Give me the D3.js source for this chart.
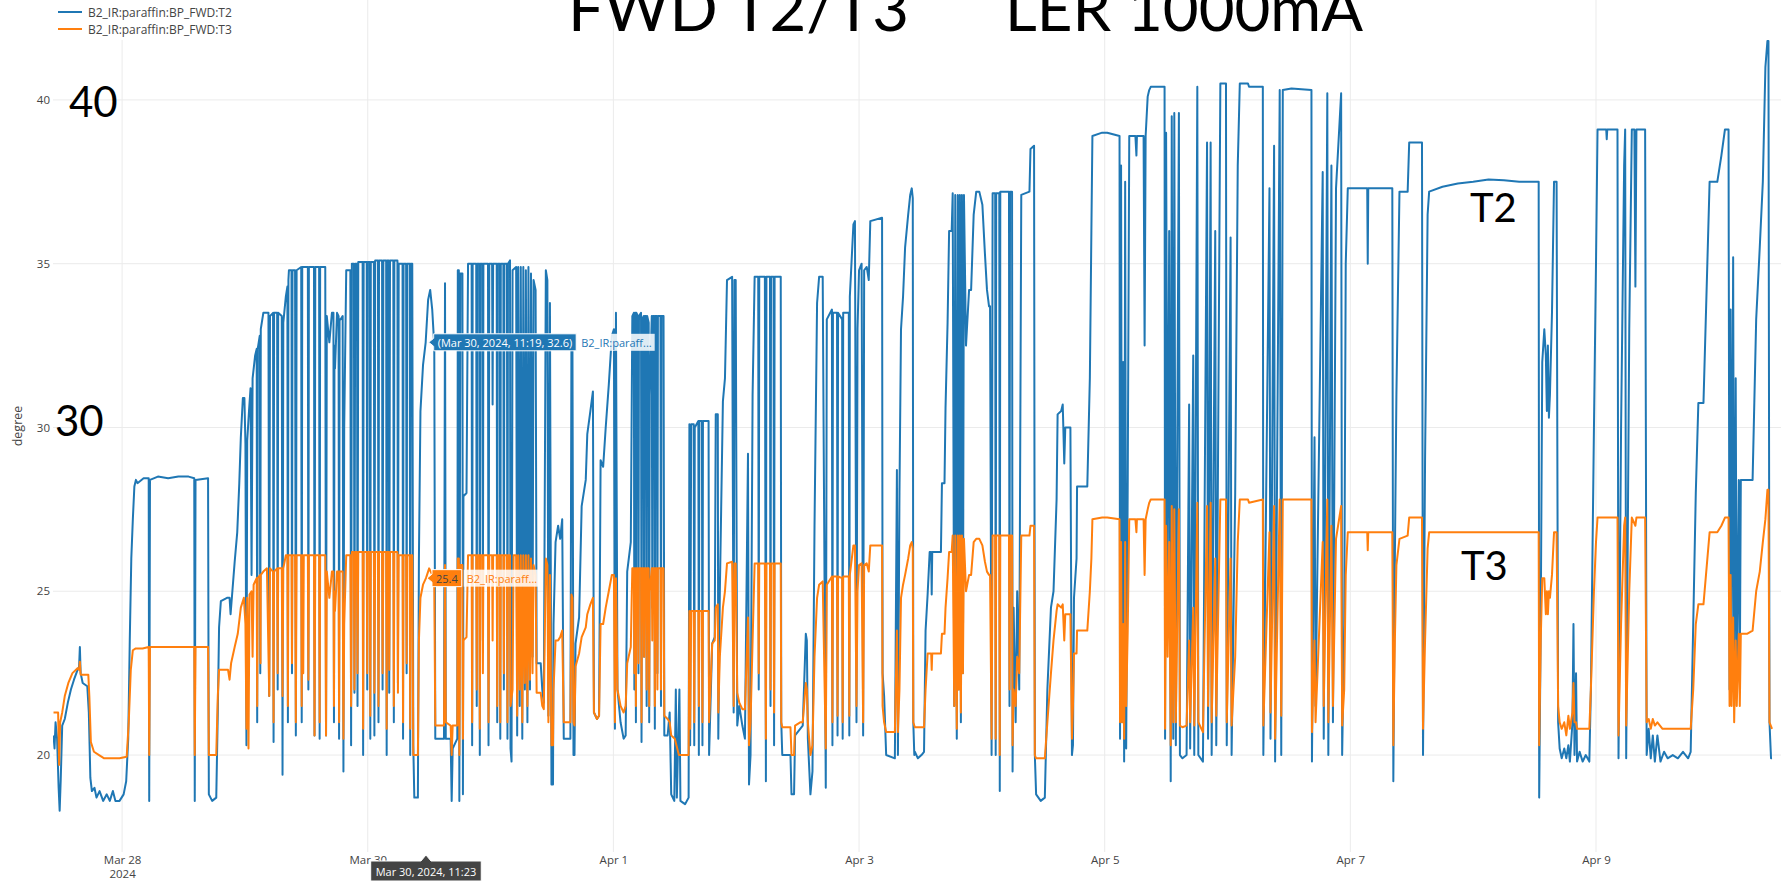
<!DOCTYPE html>
<html>
<head>
<meta charset="utf-8">
<script src="https://cdn.jsdelivr.net/npm/d3@7"></script>
<style>
  html, body { margin: 0; padding: 0; background: #fff; }
  svg { display: block; }
</style>
</head>
<body>
<svg id="chart" width="1781" height="881"></svg>
<script>
// Time stamps are hours after 2024-03-27 00:00; values in degrees.
const t2Points = [
  [10.6,20.6],[10.8,20.2],[11.0,21.0],[11.3,20.5],[11.6,19.0],[11.8,18.3],[12.0,19.2],[12.3,20.9],[12.8,21.1],[13.4,21.6],[14.0,22.0],[14.6,22.3],[15.3,22.6],[15.6,22.7],[15.75,23.3],[15.9,22.5],[16.3,22.2],[17.2,22.1],[17.5,21.3],[17.8,19.3],[18.1,18.9],[18.6,19.0],[19.0,18.7],[19.6,18.9],[20.3,18.6],[21.0,18.8],[21.6,18.6],[22.2,18.9],[22.7,18.6],[23.5,18.6],[24.3,18.8],[24.8,19.2],[25.2,20.5],[25.5,23.5],[25.8,26.0],[26.1,27.2],[26.4,28.2],[26.7,28.4],[27.0,28.3],[28.2,28.45],[29.2,28.45],[29.3,18.6],[29.45,28.4],[31.0,28.5],[33.0,28.45],[35.0,28.5],[37.0,28.5],[38.1,28.45],[38.2,18.6],[38.35,28.4],[40.8,28.45],[40.95,18.8],[41.6,18.6],[42.4,18.7],[42.7,21.3],[42.95,23.9],[43.3,24.7],[44.5,24.8],[45.0,24.8],[45.2,24.3],[45.5,24.9],[46.0,25.9],[46.5,26.8],[46.9,28.3],[47.2,29.7],[47.6,30.9],[47.9,30.9],[48.1,29.5],[48.3,20.3],[48.45,29.6],[48.8,30.5],[49.1,31.2],[49.3,25.5],[49.5,31.5],[50.0,32.2],[50.3,32.4],[50.4,21.0],[50.5,32.4],[50.9,32.8],[51.0,22.5],[51.1,33.0],[51.6,33.5],[52.6,33.5],[52.75,21.8],[52.9,33.4],[53.5,33.5],[53.6,20.4],[53.7,33.5],[54.3,33.5],[54.4,22.0],[54.5,33.5],[55.2,33.4],[55.35,19.4],[55.5,33.2],[56.0,34.0],[56.3,34.3],[56.4,21.0],[56.5,34.5],[56.6,34.8],[57.1,34.8],[57.2,22.5],[57.3,34.8],[57.8,34.8],[57.95,20.6],[58.1,34.8],[59.0,34.9],[59.1,21.0],[59.2,34.9],[60.3,34.9],[60.4,22.0],[60.5,34.9],[61.5,34.9],[61.6,20.6],[61.75,34.9],[62.5,34.9],[62.6,20.5],[62.7,34.9],[63.7,34.9],[63.85,20.6],[64.0,33.4],[64.5,32.6],[65.0,33.5],[65.3,33.5],[65.4,21.0],[65.5,32.5],[65.6,31.8],[66.0,33.5],[66.3,33.4],[66.4,20.5],[66.5,33.3],[66.7,33.3],[67.1,33.4],[67.25,19.5],[67.4,30.0],[67.8,34.8],[68.6,34.8],[68.75,20.3],[68.9,35.0],[69.3,35.0],[69.4,21.9],[69.55,35.0],[69.9,35.0],[70.0,21.5],[70.15,35.05],[71.0,35.05],[71.1,20.0],[71.2,35.05],[71.8,35.05],[71.9,22.0],[72.0,35.05],[72.4,35.05],[72.5,20.5],[72.6,35.05],[73.2,35.05],[73.3,20.6],[73.45,35.1],[74.0,35.1],[74.1,21.0],[74.2,35.1],[74.8,35.1],[74.9,22.0],[75.05,35.1],[75.6,35.1],[75.7,20.0],[75.8,35.1],[76.1,35.1],[76.2,21.9],[76.35,35.1],[77.0,35.1],[77.1,21.0],[77.2,35.1],[77.8,35.1],[77.9,22.2],[78.05,35.0],[78.8,35.0],[78.9,20.5],[79.0,35.0],[79.5,35.0],[79.6,22.5],[79.7,35.0],[80.2,35.0],[80.3,20.0],[80.4,35.0],[80.7,35.0],[80.9,20.3],[81.1,18.7],[81.8,18.7],[82.0,26.0],[82.3,30.5],[82.8,31.9],[83.32,32.6],[83.8,33.9],[84.2,34.2],[84.6,33.6],[85.0,32.5],[85.2,20.5],[86.9,20.5],[87.1,34.4],[87.25,20.5],[88.2,20.5],[88.4,18.6],[88.6,20.2],[89.5,20.5],[89.6,34.8],[89.8,34.8],[89.9,18.6],[90.1,34.7],[90.5,34.7],[90.6,18.8],[90.7,27.9],[91.3,28.0],[91.6,35.0],[92.3,35.0],[92.4,20.3],[92.5,35.0],[93.2,35.0],[93.3,21.5],[93.4,35.0],[93.8,35.0],[93.9,20.0],[94.0,35.0],[94.4,35.0],[94.5,23.5],[94.6,35.0],
  [95.5,35.0],[95.6,20.3],[95.75,35.0],[96.3,35.0],[96.4,30.7],[96.5,35.0],[97.2,35.0],[97.3,21.0],[97.4,35.0],[97.8,35.0],[97.9,20.5],[98.0,35.0],[98.5,35.0],[98.6,22.0],[98.7,35.0],[99.2,35.0],[99.3,20.5],[99.4,35.0],[99.8,35.1],[99.9,20.2],[100.1,19.8],[100.3,34.8],[101.0,34.9],[101.2,20.6],[101.4,34.9],[101.7,21.5],[101.9,34.9],[102.2,20.5],[102.4,34.9],[102.7,22.0],[102.9,34.8],[103.2,21.0],[103.4,34.9],[103.7,22.0],[103.9,34.7],[104.2,23.0],[104.4,34.5],[104.8,34.2],[105.0,22.8],[105.8,22.8],[106.1,22.0],[106.4,21.6],[106.8,34.8],[107.1,34.5],[107.3,21.2],[107.6,33.8],[107.9,19.1],[108.2,19.1],[108.3,24.0],[108.7,26.5],[109.2,27.0],[109.6,26.6],[110.0,27.2],[110.3,20.5],[111.6,20.5],[111.8,32.5],[112.0,32.4],[112.2,20.0],[112.4,20.0],[112.6,23.4],[113.3,24.2],[113.8,27.6],[114.6,28.4],[114.9,29.8],[115.5,30.5],[116.0,31.1],[116.2,21.3],[116.8,21.1],[117.2,21.2],[117.5,29.0],[118.0,28.8],[118.5,30.0],[119.1,31.3],[119.7,32.8],[120.1,33.0],[120.3,20.8],[120.5,33.5],[120.8,22.0],[121.4,21.0],[122.0,20.5],[122.4,20.6],[122.7,25.6],[123.4,26.5],[123.7,33.4],[124.0,33.5],[124.1,22.0],[124.2,33.5],[124.3,33.5],[124.4,21.0],[124.5,33.5],[124.8,33.4],[124.9,22.5],[125.0,33.4],[125.4,33.5],[125.5,20.4],[125.6,33.3],[125.9,33.4],[126.0,23.0],[126.1,33.4],[126.4,33.4],[126.5,21.5],[126.6,33.4],[126.9,33.2],[127.0,21.0],[127.1,31.0],[127.5,33.4],[127.6,24.5],[127.7,33.4],[128.0,33.4],[128.1,20.8],[128.2,33.4],[128.5,33.4],[128.6,22.5],[128.7,33.4],[129.2,33.4],[129.3,21.5],[129.4,33.4],[129.8,33.4],[129.95,20.6],[130.6,20.6],[131.0,21.3],[131.3,18.8],[131.9,18.6],[132.2,22.0],[132.4,18.7],[132.9,22.0],[133.1,18.6],[134.0,18.5],[134.7,18.7],[134.85,30.1],[135.0,20.3],[135.2,30.1],[135.7,30.1],[135.8,20.3],[135.9,30.0],[136.6,30.2],[136.7,20.0],[136.8,30.2],[137.3,30.2],[137.4,20.3],[137.5,30.2],[138.6,30.2],[138.7,20.0],[139.3,23.4],[139.8,23.6],[140.0,30.4],[140.4,30.4],[140.5,20.5],[140.8,25.0],[141.4,30.8],[141.8,31.5],[142.2,34.5],[143.2,34.6],[143.5,21.3],[143.65,34.5],[143.9,34.5],[144.2,20.9],[144.6,21.5],[145.2,20.9],[145.7,20.5],[146.3,29.2],[146.5,19.1],[146.8,20.0],[147.2,31.0],[147.6,34.6],[148.3,34.6],[148.4,22.0],[148.5,34.6],[149.6,34.6],[149.8,19.2],[149.9,34.6],[150.6,34.6],[150.7,21.5],[150.8,34.6],[151.3,34.6],[151.4,20.3],[151.5,34.6],[152.7,34.6],[152.8,21.0],[153.0,20.0],[154.6,20.0],[154.8,18.8],[155.3,18.8],[155.5,20.6],[156.5,20.8],[157.0,20.9],[157.6,23.7],[157.8,23.5],[158.0,20.5],[158.5,18.8],[158.9,19.5],[159.3,27.0],[159.8,33.8],[160.2,34.6],[160.9,34.6],[161.5,19.0],[161.7,33.3],[162.7,33.6],[162.8,20.3],[162.9,33.5],[163.7,33.5],[163.8,20.6],[163.9,33.5],[164.7,33.3],[164.8,20.5],[164.9,33.5],[166.0,33.5],[166.1,20.6],[166.2,34.0],[166.9,36.2],[167.2,36.3],[167.5,21.0],[167.7,33.0],[168.0,34.8],[168.5,35.0],[168.8,20.6],[169.0,34.8],[169.5,34.9],[169.9,34.5],[170.2,36.3],[172.5,36.4],[172.6,22.5],[172.9,21.8],[173.3,20.0],[175.0,19.9],[175.4,28.7],[175.6,20.0],[175.9,28.0],[176.2,33.0],[176.6,34.0],[177.0,35.5],[177.6,36.5],[178.0,37.1],[178.3,37.3],[178.5,37.0],[178.6,21.0],[178.8,20.0],
  [178.9,20.1],[179.5,19.9],[180.2,20.0],[180.7,20.1],[181.0,23.8],[181.4,24.9],[181.8,26.2],[182.1,26.2],[182.2,24.9],[182.3,26.2],[184.0,26.2],[184.2,28.3],[184.7,28.3],[184.9,30.6],[185.3,33.2],[185.6,36.0],[186.1,36.0],[186.3,37.15],[186.6,21.5],[186.8,37.1],[187.1,20.5],[187.3,37.1],[187.5,22.0],[187.7,37.1],[187.9,21.0],[188.1,37.1],[188.3,22.5],[188.5,37.1],[188.9,32.5],[189.5,34.2],[189.9,34.2],[190.4,36.5],[190.9,37.2],[191.5,37.2],[192.1,36.8],[192.6,35.3],[193.0,34.2],[193.4,33.7],[193.6,33.7],[193.9,20.0],[194.1,37.15],[194.6,37.15],[194.7,20.0],[194.8,37.15],[195.4,37.15],[195.5,18.9],[195.6,37.2],[197.3,37.2],[197.4,21.5],[197.5,37.2],[197.9,37.2],[198.0,19.5],[198.2,24.5],[198.6,21.0],[198.9,25.0],[199.3,22.0],[199.7,37.1],[201.3,37.2],[201.5,38.5],[202.2,38.6],[202.35,20.0],[202.6,18.8],[203.5,18.6],[204.3,18.7],[204.8,22.0],[205.5,24.5],[206.0,25.0],[206.6,27.8],[206.8,30.4],[207.5,30.5],[207.8,30.7],[208.1,28.9],[208.3,30.0],[209.3,30.0],[209.6,20.0],[209.8,20.3],[210.0,24.8],[210.5,26.0],[210.6,28.2],[212.6,28.2],[213.1,31.5],[213.4,36.0],[213.6,38.9],[215.5,39.0],[216.5,39.0],[218.9,38.9],[219.0,20.5],[219.2,38.0],[219.4,21.0],[219.6,32.0],[219.8,19.8],[220.0,37.5],[220.2,20.2],[220.5,28.3],[220.8,38.9],[222.0,38.9],[222.2,38.3],[222.3,38.9],[223.6,38.9],[223.8,32.5],[224.0,38.9],[224.4,40.1],[224.7,40.3],[225.0,40.4],[227.7,40.4],[227.8,20.5],[228.0,39.0],[228.3,25.0],[228.6,36.0],[228.9,19.2],[229.1,39.5],[229.4,20.5],[229.6,39.6],[229.9,20.3],[230.5,39.6],[230.7,20.0],[231.2,19.9],[232.0,20.0],[232.5,30.7],[232.7,20.2],[233.3,32.2],[233.5,20.0],[234.1,40.4],[234.3,20.0],[235.2,19.8],[236.0,38.7],[236.2,20.5],[236.7,38.7],[236.9,20.0],[237.6,36.0],[237.8,20.3],[238.6,40.5],[239.7,40.5],[239.85,20.3],[240.6,35.8],[240.8,20.0],[241.5,28.0],[242.0,38.0],[242.4,40.5],[244.0,40.5],[244.2,40.4],[246.9,40.4],[247.0,20.0],[248.2,37.3],[248.4,20.5],[249.1,38.6],[249.3,19.8],[250.2,40.3],[250.5,20.0],[250.8,40.3],[252.5,40.35],[256.4,40.3],[256.5,19.8],[257.0,29.7],[257.2,21.5],[258.6,37.8],[258.8,20.5],[259.5,40.2],[259.7,20.0],[260.3,38.0],[260.6,21.0],[261.2,37.3],[262.2,40.2],[262.4,20.0],
  [262.8,24.0],[263.1,35.0],[263.5,37.3],[267.3,37.3],[267.4,35.0],[267.5,37.3],[272.2,37.3],[272.4,19.2],[272.7,26.0],[273.0,31.0],[273.6,37.2],[275.2,37.2],[275.5,38.7],[278.0,38.7],[278.2,20.0],[278.6,29.0],[279.1,36.5],[279.4,37.2],[282.0,37.35],[285.0,37.45],[288.0,37.5],[291.0,37.57],[294.0,37.55],[297.0,37.5],[300.8,37.5],[300.9,18.7],[301.2,24.0],[301.5,32.0],[301.9,33.0],[302.2,32.2],[302.4,30.5],[302.6,32.5],[302.8,30.3],[303.0,31.0],[303.4,33.5],[303.8,37.5],[304.3,37.5],[304.6,21.0],[304.9,20.2],[305.3,19.9],[305.8,20.2],[306.2,19.9],[306.6,20.3],[306.9,19.8],[307.4,21.0],[307.6,24.0],[307.8,20.0],[308.1,22.5],[308.3,19.8],[308.8,20.1],[309.4,19.8],[310.0,20.0],[310.7,19.8],[311.0,22.0],[311.6,30.0],[312.0,35.0],[312.3,39.1],[314.0,39.1],[314.1,38.8],[314.2,39.1],[316.2,39.1],[316.4,19.9],[316.9,30.0],[317.5,38.0],[317.7,39.1],[317.9,19.9],[318.5,33.0],[319.0,39.1],[319.5,39.1],[319.7,34.3],[319.9,39.1],[321.6,39.1],[321.9,20.0],[322.3,20.8],[322.7,19.9],[323.1,20.6],[323.5,19.8],[324.0,20.6],[324.6,19.8],[325.3,20.1],[326.0,19.9],[327.0,20.0],[328.0,19.9],[329.0,20.1],[330.0,19.9],[330.5,20.1],[331.0,24.0],[331.5,28.0],[332.0,30.75],[333.0,30.75],[334.2,37.5],[335.7,37.5],[336.5,38.3],[337.2,39.1],[337.9,39.1],[338.1,22.0],[338.3,33.6],[338.5,23.0],[338.8,35.2],[339.0,21.5],[339.3,31.5],[339.5,22.0],[339.9,28.4],[340.1,22.5],[340.3,28.4],[342.6,28.4],[343.3,33.3],[344.0,35.5],[344.6,37.5],[345.1,41.0],[345.5,41.8],[345.7,41.8],[345.9,21.0],[346.2,19.9],[346.4,19.9]
];

const t3Points = [
  [10.6,21.3],[11.5,21.3],[11.7,19.7],[11.9,21.0],[12.3,21.3],[12.8,21.8],[13.5,22.2],[14.3,22.5],[15.3,22.65],[15.6,22.6],[15.75,22.85],[15.9,22.45],[17.4,22.45],[17.6,21.8],[17.9,20.4],[18.5,20.1],[19.5,20.0],[20.5,19.9],[22.0,19.9],[23.5,19.9],[24.9,19.95],[25.3,21.0],[25.7,22.6],[26.1,23.2],[26.6,23.25],[28.0,23.25],[29.2,23.3],[29.3,20.0],[29.45,23.3],[32.0,23.3],[35.0,23.3],[38.1,23.3],[38.2,20.0],[38.35,23.3],[40.8,23.3],[40.95,20.0],[42.4,20.0],[42.7,21.8],[42.95,22.6],[44.7,22.6],[45.0,22.3],[45.3,22.8],[46.0,23.3],[46.6,23.7],[47.2,24.5],[47.8,24.8],[48.1,24.0],[48.3,20.8],[48.45,24.8],[48.7,20.2],[48.9,24.9],[49.3,25.0],[49.5,23.0],[49.7,25.2],[50.3,25.4],[50.4,21.5],[50.5,25.4],[51.0,25.5],[51.05,22.8],[51.1,25.5],[51.6,25.6],[52.3,25.7],[52.75,21.8],[52.9,25.7],[53.5,25.6],[53.6,21.0],[53.7,25.6],[54.3,25.7],[54.4,22.5],[54.5,25.7],[55.2,25.7],[55.35,21.8],[55.5,25.7],[56.0,26.1],[56.3,26.1],[56.4,21.5],[56.5,26.1],[57.1,26.1],[57.2,22.8],[57.3,26.1],[57.8,26.1],[57.95,21.0],[58.1,26.1],[59.0,26.1],[59.1,21.5],[59.2,26.1],[59.3,26.1],[59.4,22.5],[59.5,26.1],[60.3,26.1],[60.4,22.3],[60.5,26.1],[61.5,26.1],[61.6,20.6],[61.75,26.1],[62.5,26.1],[62.6,21.0],[62.7,26.1],[63.7,26.1],[63.85,20.6],[64.0,25.6],[64.5,24.8],[65.0,25.6],[65.3,25.6],[65.4,21.5],[65.5,25.0],[65.6,24.4],[66.0,25.6],[66.3,25.6],[66.4,21.0],[66.5,25.6],[67.1,25.6],[67.25,20.5],[67.4,24.0],[67.8,26.1],[68.6,26.1],[68.75,21.5],[68.9,26.2],[69.3,26.2],[69.4,22.0],[69.55,26.2],[69.9,26.2],[70.0,22.5],[70.15,26.2],[71.0,26.2],[71.1,20.8],[71.2,26.2],[71.8,26.2],[71.9,22.5],[72.0,26.2],[72.4,26.2],[72.5,21.2],[72.6,26.2],[73.2,26.2],[73.3,21.9],[73.45,26.2],[74.0,26.2],[74.1,21.5],[74.2,26.2],[74.8,26.2],[74.9,22.5],[75.05,26.2],[75.6,26.2],[75.7,20.8],[75.8,26.2],[76.1,26.2],[76.2,22.6],[76.35,26.2],[77.0,26.2],[77.1,21.5],[77.2,26.2],[77.8,26.2],[77.9,21.9],[78.05,26.1],[78.8,26.1],[78.9,21.0],[79.0,26.1],[79.5,26.1],[79.6,22.8],[79.7,26.1],[80.2,26.1],[80.3,20.8],[80.4,26.1],[80.7,26.1],[80.9,20.0],[81.8,20.0],[82.0,23.5],[82.3,24.8],[82.8,25.2],[83.38,25.4],[84.0,25.7],[84.6,25.5],[85.0,25.2],[85.2,20.9],[86.9,20.9],[87.1,25.8],[87.25,21.0],[88.2,20.9],[88.4,20.0],[88.6,20.9],[89.5,20.9],[89.6,26.0],[89.8,26.0],[89.9,20.0],[90.1,25.8],[90.5,25.8],[90.6,20.5],[90.7,23.5],[91.3,23.6],[91.6,26.1],[92.3,26.1],[92.4,21.0],[92.5,26.1],[93.2,26.1],[93.3,22.0],[93.4,26.1],[93.8,26.1],[93.9,20.8],[94.0,26.1],[94.4,26.1],[94.5,22.5],[94.6,26.1],
  [95.5,26.1],[95.6,21.0],[95.75,26.1],[96.3,26.1],[96.4,23.5],[96.5,26.1],[97.2,26.1],[97.3,21.5],[97.4,26.1],[97.8,26.1],[97.9,21.0],[98.0,26.1],[98.5,26.1],[98.6,22.5],[98.7,26.1],[99.2,26.1],[99.3,21.0],[99.4,26.1],[99.8,26.1],[99.9,21.5],[100.3,22.0],[100.5,26.1],[101.0,26.1],[101.2,21.2],[101.4,26.1],[101.7,22.0],[101.9,26.1],[102.2,21.0],[102.4,26.1],[102.7,22.2],[102.9,26.1],[103.2,21.5],[103.4,26.1],[103.7,22.3],[103.9,26.0],[104.2,22.5],[104.4,25.8],[104.8,25.5],[105.0,21.9],[105.8,21.9],[106.1,21.5],[106.4,21.4],[106.8,26.0],[107.1,25.8],[107.3,21.0],[107.6,25.5],[107.9,20.3],[108.2,20.3],[108.3,22.0],[108.7,23.5],[109.2,23.5],[109.6,23.6],[110.0,23.8],[110.3,21.0],[111.6,21.0],[111.8,24.9],[112.0,24.8],[112.2,21.0],[112.4,20.9],[112.6,22.7],[113.3,23.1],[113.8,23.6],[114.6,23.9],[114.9,24.3],[115.5,24.6],[116.0,24.8],[116.2,21.3],[116.8,21.1],[117.2,21.2],[117.5,24.0],[118.0,24.0],[118.5,24.5],[119.1,25.0],[119.7,25.5],[120.1,25.5],[120.3,21.0],[120.5,25.4],[120.8,22.0],[121.4,21.5],[122.0,21.3],[122.4,21.5],[122.7,22.8],[123.4,23.3],[123.7,25.7],[124.0,25.7],[124.1,22.5],[124.2,25.7],[124.3,25.7],[124.4,21.5],[124.5,25.7],[124.8,25.7],[124.9,22.8],[125.0,25.7],[125.4,25.7],[125.5,21.0],[125.6,25.7],[125.9,25.7],[126.0,23.0],[126.1,25.7],[126.4,25.7],[126.5,22.0],[126.6,25.7],[126.9,25.7],[127.0,21.5],[127.1,25.0],[127.5,25.7],[127.6,23.5],[127.7,25.7],[128.0,25.7],[128.1,21.5],[128.2,25.7],[128.5,25.7],[128.6,22.0],[128.7,25.7],[129.2,25.7],[129.3,22.0],[129.4,25.7],[129.8,25.7],[129.95,21.2],[130.6,21.1],[131.0,21.0],[131.3,20.6],[132.0,20.5],[132.8,20.0],[134.7,20.0],[134.85,24.4],[135.0,20.8],[135.2,24.4],[135.7,24.4],[135.8,21.0],[135.9,24.4],[136.6,24.4],[136.7,21.5],[136.8,24.4],[137.3,24.4],[137.4,21.0],[137.5,24.4],[138.6,24.4],[138.7,21.0],[139.3,23.4],[139.8,23.5],[140.0,24.5],[140.4,24.6],[140.5,21.3],[140.8,23.0],[141.4,24.5],[141.8,25.0],[142.2,25.85],[143.2,25.9],[143.5,21.5],[143.65,25.85],[143.9,25.85],[144.2,21.9],[144.6,21.6],[145.2,21.4],[145.7,21.4],[146.3,24.2],[146.5,20.3],[146.8,21.0],[147.2,23.5],[147.6,25.85],[148.3,25.85],[148.4,22.5],[148.5,25.85],[149.6,25.85],[149.8,20.5],[149.9,25.85],[150.6,25.85],[150.7,22.0],[150.8,25.85],[151.3,25.85],[151.4,21.3],[151.5,25.85],[152.7,25.85],[152.8,21.0],[153.0,20.85],[154.6,20.85],[154.8,20.0],[155.3,20.0],[155.5,20.9],[156.5,21.0],[157.0,21.0],[157.6,22.2],[157.8,22.0],[158.0,21.0],[158.5,20.0],[158.9,20.3],[159.3,23.0],[159.8,24.8],[160.2,25.2],[160.9,25.3],[161.5,20.2],[161.7,25.2],[162.7,25.45],[162.8,21.0],[162.9,25.45],[163.7,25.45],[163.8,21.2],[163.9,25.45],[164.7,25.4],[164.8,21.0],[164.9,25.45],[166.0,25.45],[166.1,21.2],[166.2,25.5],[166.9,26.4],[167.2,26.4],[167.5,21.5],[167.7,25.0],[168.0,25.8],[168.5,25.85],[168.8,21.0],[169.0,25.8],[169.5,25.85],[169.9,25.6],[170.2,26.4],[172.5,26.4],[172.6,21.5],[172.9,21.0],[173.3,20.7],[175.0,20.7],[175.4,23.8],[175.6,20.7],[175.9,22.0],[176.2,24.8],[176.6,25.2],[177.0,25.5],[177.6,26.0],[178.0,26.4],[178.3,26.5],[178.5,26.3],[178.6,21.0],[178.9,20.85],
  [180.7,20.85],[181.0,22.0],[181.4,23.1],[182.1,23.1],[182.2,22.6],[182.3,23.1],[184.0,23.1],[184.2,23.7],[184.7,23.7],[184.9,24.5],[185.3,25.4],[185.6,26.2],[186.1,26.2],[186.3,26.7],[186.6,21.5],[186.8,26.7],[187.1,20.8],[187.3,26.7],[187.5,22.0],[187.7,26.7],[187.9,21.3],[188.1,26.7],[188.3,22.5],[188.5,26.6],[188.9,25.0],[189.5,25.5],[189.9,25.5],[190.4,26.5],[190.9,26.6],[191.5,26.6],[192.1,26.4],[192.6,25.9],[193.0,25.6],[193.4,25.5],[193.6,25.5],[193.9,20.5],[194.1,26.7],[194.6,26.7],[194.7,20.5],[194.8,26.7],[195.4,26.7],[195.5,20.0],[195.6,26.7],[197.3,26.7],[197.4,22.0],[197.5,26.7],[197.9,26.7],[198.0,20.3],[198.2,22.0],[198.6,21.5],[198.9,23.0],[199.3,22.5],[199.7,26.7],[201.3,26.7],[201.5,27.0],[202.2,27.0],[202.35,20.0],[202.6,19.9],[204.3,19.9],[204.8,21.0],[205.5,22.5],[206.0,23.5],[206.6,24.4],[206.8,24.6],[207.5,24.5],[207.8,24.6],[208.1,23.5],[208.3,24.3],[209.3,24.3],[209.6,20.5],[209.8,21.5],[210.0,23.1],[210.5,23.1],[210.6,23.8],[212.6,23.8],[213.1,25.0],[213.4,26.0],[213.6,27.2],[215.5,27.25],[216.5,27.25],[218.9,27.2],[219.0,21.0],[219.2,26.5],[219.4,21.0],[219.6,24.0],[219.8,20.5],[220.0,26.5],[220.2,21.5],[220.5,23.8],[220.8,27.2],[222.0,27.2],[222.2,26.8],[222.3,27.2],[223.6,27.2],[223.8,25.5],[224.0,27.2],[224.4,27.5],[224.7,27.7],[225.0,27.8],[227.7,27.8],[227.8,20.8],[228.0,27.0],[228.3,23.0],[228.6,26.5],[228.9,20.3],[229.1,27.6],[229.4,21.0],[229.6,27.5],[229.9,21.0],[230.5,27.5],[230.7,20.9],[231.2,20.85],[232.0,20.9],[232.5,23.5],[232.7,21.0],[233.3,24.5],[233.5,20.9],[234.1,27.7],[234.3,21.0],[235.2,20.7],[236.0,27.6],[236.2,21.5],[236.7,27.7],[236.9,21.0],[237.6,26.0],[237.8,21.2],[238.6,27.8],[239.7,27.8],[239.85,21.0],[240.6,26.0],[240.8,20.9],[241.5,23.0],[242.0,26.5],[242.4,27.8],[244.0,27.8],[244.2,27.7],[246.9,27.8],[247.0,20.9],[248.2,26.8],[248.4,21.3],[249.1,27.6],[249.3,20.5],[250.2,27.8],[250.5,21.2],[250.8,27.8],[252.5,27.8],[256.4,27.8],[256.5,20.7],[257.0,23.5],[257.2,21.0],[258.6,26.5],[258.8,21.5],[259.5,27.8],[259.7,21.0],[260.3,27.0],[260.6,21.5],[261.2,26.6],[262.2,27.6],[262.4,20.9],
  [262.8,22.0],[263.1,25.5],[263.5,26.8],[267.3,26.8],[267.4,26.25],[267.5,26.8],[272.2,26.8],[272.4,20.3],[272.7,23.5],[273.0,25.8],[273.6,26.6],[275.2,26.7],[275.5,27.25],[278.0,27.25],[278.2,20.8],[278.6,23.5],[279.1,26.3],[279.4,26.8],[285.0,26.8],[292.0,26.8],[300.8,26.8],[300.9,20.3],[301.2,23.5],[301.5,25.4],[301.9,25.4],[302.2,24.3],[302.4,25.0],[302.6,24.3],[302.8,25.0],[303.0,24.8],[303.4,25.5],[303.8,26.8],[304.3,26.8],[304.6,21.5],[304.9,21.0],[305.3,20.8],[305.8,21.0],[306.2,20.6],[306.6,21.2],[306.9,20.8],[307.4,21.3],[307.6,22.2],[307.8,21.0],[308.1,21.0],[308.3,20.8],[310.7,20.8],[311.0,22.0],[311.6,25.0],[312.0,26.5],[312.3,27.25],[316.2,27.25],[316.4,20.6],[316.9,24.0],[317.5,27.0],[317.7,27.25],[317.9,20.9],[318.5,25.0],[319.0,27.25],[319.7,27.0],[319.9,27.25],[321.6,27.25],[321.9,21.0],[322.3,21.1],[322.7,20.8],[323.1,21.1],[323.5,20.9],[324.0,21.0],[325.0,20.8],[326.0,20.8],[327.5,20.8],[329.0,20.8],[330.5,20.8],[331.0,22.0],[331.5,24.0],[332.0,24.6],[333.0,24.6],[334.2,26.8],[335.7,26.8],[336.5,27.0],[337.2,27.25],[337.9,27.25],[338.1,21.5],[338.3,25.5],[338.5,21.5],[338.8,24.2],[339.0,21.0],[339.3,23.5],[339.5,21.5],[339.9,23.7],[340.1,21.5],[340.3,23.7],[341.5,23.7],[342.6,23.8],[343.3,25.0],[344.0,25.6],[344.6,26.5],[345.1,27.2],[345.5,28.1],[345.7,28.1],[345.9,21.0],[346.4,20.8]
];

const seriesNames = ["B2_IR:paraffin:BP_FWD:T2", "B2_IR:paraffin:BP_FWD:T3"];
const seriesColors = ["#1f77b4", "#ff7f0e"];
const xTickDays = ["2024-03-28", "2024-03-30", "2024-04-01", "2024-04-03", "2024-04-05", "2024-04-07", "2024-04-09"];
const yTickValues = [20, 25, 30, 35, 40];
// Hovered samples: [hours after Mar 27 00:00, value]
const hoverT2 = [83.32, 32.6];
const hoverT3 = [83.38, 25.4];
const hoverXLabel = "Mar 30, 2024, 11:23";
const hoverT2Label = "(Mar 30, 2024, 11:19, 32.6)";
const hoverNameShort = "B2_IR:paraff...";

const BASE = Date.UTC(2024, 2, 27);
const toDate = h => new Date(BASE + h * 3600e3);

const W = 1781, H = 881;
const plot = { left: 53, right: 1781, top: 0, bottom: 852 };

const svg = d3.select("#chart");
svg.append("rect").attr("width", W).attr("height", H).attr("fill", "#fff");

const x = d3.scaleUtc()
  .domain([toDate(10.5), toDate(348.15)])
  .range([plot.left, plot.right]);
const y = d3.scaleLinear()
  .domain([17.04, 43.05])
  .range([plot.bottom, plot.top]);

const fontUI = "'Open Sans', 'Liberation Sans', Arial, sans-serif";

// grid
const grid = svg.append("g");
grid.selectAll("line.h").data(yTickValues).join("line")
  .attr("x1", plot.left).attr("x2", plot.right)
  .attr("y1", d => y(d)).attr("y2", d => y(d))
  .attr("stroke", "#ebebeb").attr("stroke-width", 1);
grid.selectAll("line.v").data(xTickDays.map(d => new Date(d + "T00:00:00Z"))).join("line")
  .attr("x1", d => x(d)).attr("x2", d => x(d))
  .attr("y1", plot.top).attr("y2", plot.bottom)
  .attr("stroke", "#ebebeb").attr("stroke-width", 1);

// y axis
const yAxis = svg.append("g")
  .attr("transform", `translate(${plot.left - 1},0)`)
  .call(d3.axisLeft(y).tickValues(yTickValues).tickSize(0).tickPadding(2));
yAxis.select(".domain").remove();
yAxis.selectAll("text")
  .attr("fill", "#444").attr("font-family", fontUI).attr("font-size", 11.5);

svg.append("text")
  .attr("transform", "translate(17,426) rotate(-90)")
  .attr("text-anchor", "middle").attr("dominant-baseline", "central")
  .attr("fill", "#444").attr("font-family", fontUI).attr("font-size", 12.5)
  .text("degree");

// x axis
const fmt = d3.utcFormat("%b %-d");
const xAxis = svg.append("g")
  .attr("transform", `translate(0,${plot.bottom})`)
  .call(d3.axisBottom(x)
    .tickValues(xTickDays.map(d => new Date(d + "T00:00:00Z")))
    .tickFormat(fmt).tickSize(0).tickPadding(4));
xAxis.select(".domain").remove();
xAxis.selectAll("text")
  .attr("fill", "#444").attr("font-family", fontUI).attr("font-size", 11.5);
xAxis.select(".tick text").append("tspan")
  .attr("x", 0).attr("dy", "1.2em").text("2024");

// series
svg.append("clipPath").attr("id", "plotclip").append("rect")
  .attr("x", plot.left).attr("y", plot.top)
  .attr("width", plot.right - plot.left).attr("height", plot.bottom - plot.top);

const line = d3.line().x(d => x(toDate(d[0]))).y(d => y(d[1]));
const series = svg.append("g").attr("clip-path", "url(#plotclip)");
[t2Points, t3Points].forEach((pts, i) => {
  series.append("path")
    .datum(pts)
    .attr("d", line)
    .attr("fill", "none")
    .attr("stroke", seriesColors[i])
    .attr("stroke-width", 2)
    .attr("stroke-linejoin", "round");
});

// legend
const legend = svg.append("g");
legend.append("rect").attr("x", 53).attr("y", 0).attr("width", 190).attr("height", 40).attr("fill", "#fff");
seriesNames.forEach((name, i) => {
  const ly = 12 + i * 17;
  legend.append("line").attr("x1", 58).attr("x2", 82).attr("y1", ly).attr("y2", ly)
    .attr("stroke", seriesColors[i]).attr("stroke-width", 2);
  legend.append("text").attr("x", 88).attr("y", ly).attr("dominant-baseline", "central")
    .attr("fill", "#444").attr("font-family", fontUI).attr("font-size", 12).text(name);
});

// hover labels
function hoverBox(px, py, text, name, fill, textColor) {
  const g = svg.append("g");
  const t = g.append("text").attr("font-family", fontUI).attr("font-size", 11)
    .attr("fill", textColor).attr("x", px + 9).attr("y", py).attr("dominant-baseline", "central").text(text);
  const tw = t.node().getComputedTextLength();
  const bw = tw + 8, bh = 17;
  g.insert("path", "text")
    .attr("d", `M${px},${py} L${px + 5},${py - 4} L${px + 5},${py - bh / 2} L${px + 5 + bw},${py - bh / 2} L${px + 5 + bw},${py + bh / 2} L${px + 5},${py + bh / 2} L${px + 5},${py + 4} Z`)
    .attr("fill", fill).attr("stroke", "#fff").attr("stroke-width", 1);
  const nx = px + 5 + bw + 2;
  const nt = g.append("text").attr("font-family", fontUI).attr("font-size", 11)
    .attr("fill", fill).attr("x", nx + 3).attr("y", py).attr("dominant-baseline", "central").text(name);
  const nw = nt.node().getComputedTextLength();
  g.insert("rect", "text:last-child").attr("x", nx).attr("y", py - bh / 2)
    .attr("width", nw + 6).attr("height", bh).attr("fill", "#fff").attr("opacity", 0.85);
}
hoverBox(x(toDate(hoverT2[0])) + 3, y(hoverT2[1]), hoverT2Label, hoverNameShort, seriesColors[0], "#fff");
hoverBox(x(toDate(hoverT3[0])) + 1, y(hoverT3[1]), String(hoverT3[1]), hoverNameShort, seriesColors[1], "#444");

// x hover label
{
  const hx = x(toDate(hoverT3[0]));
  const g = svg.append("g");
  const t = g.append("text").attr("font-family", fontUI).attr("font-size", 11)
    .attr("fill", "#fff").attr("text-anchor", "middle").attr("x", hx).attr("y", 871)
    .attr("dominant-baseline", "central").text(hoverXLabel);
  const tw = t.node().getComputedTextLength();
  g.insert("path", "text")
    .attr("d", `M${hx},${855} L${hx + 5},${861} L${hx + tw / 2 + 5},${861} L${hx + tw / 2 + 5},${881} L${hx - tw / 2 - 5},${881} L${hx - tw / 2 - 5},${861} L${hx - 5},${861} Z`)
    .attr("fill", "#444").attr("stroke", "#fff").attr("stroke-width", 1);
}

// slide annotations
const fontSlide = "Lato, 'Open Sans', 'Liberation Sans', sans-serif";
const notes = svg.append("g").attr("font-family", fontSlide).attr("fill", "#000");
notes.append("text").attr("x", 568).attr("y", 31).attr("font-size", 62)
  .attr("textLength", 341).attr("lengthAdjust", "spacingAndGlyphs").text("FWD T2/T3");
notes.append("text").attr("x", 1005).attr("y", 31).attr("font-size", 62)
  .attr("textLength", 358).attr("lengthAdjust", "spacingAndGlyphs").text("LER 1000mA");
notes.append("text").attr("x", 69).attr("y", 117).attr("font-size", 42).text("40");
notes.append("text").attr("x", 55).attr("y", 436).attr("font-size", 42).text("30");
notes.append("text").attr("x", 1470).attr("y", 222).attr("font-size", 40).text("T2");
notes.append("text").attr("x", 1461).attr("y", 580).attr("font-size", 40).text("T3");
</script>
</body>
</html>
